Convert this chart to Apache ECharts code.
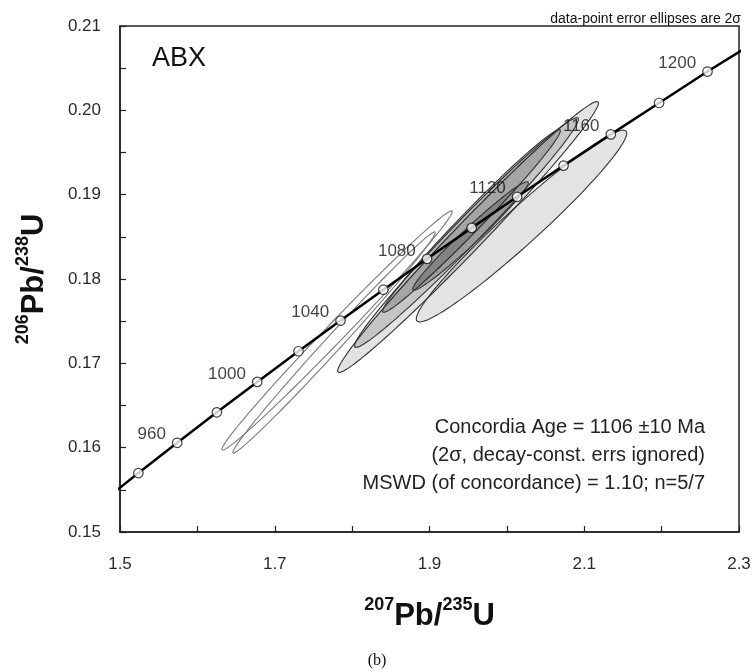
<!DOCTYPE html>
<html>
<head>
<meta charset="utf-8">
<script src="https://cdn.jsdelivr.net/npm/echarts@6/dist/echarts.min.js"></script>
<style>html,body{margin:0;padding:0;background:#fff;}#chart{width:754px;height:672px;}</style>
</head>
<body>
<div id="chart"></div>
<script>
// ---- data ----
const concordiaAge = [920, 940, 960, 980, 1000, 1020, 1040, 1060, 1080, 1100, 1120, 1140, 1160, 1180, 1200, 1220];
const concordiaX = [1.47456, 1.52378, 1.57399, 1.62519, 1.67741, 1.73067, 1.78499, 1.84039, 1.89689, 1.95452, 2.01329, 2.07323, 2.13437, 2.19671, 2.25928, 2.32515];
const concordiaY = [0.15340, 0.15699, 0.16058, 0.16419, 0.16780, 0.17143, 0.17507, 0.17873, 0.18239, 0.18606, 0.18975, 0.19344, 0.19715, 0.20087, 0.20460, 0.20835];
const markerAges = [940, 960, 980, 1000, 1020, 1040, 1060, 1080, 1100, 1120, 1140, 1160, 1180, 1200];
const labelAges = [960, 1000, 1040, 1080, 1120, 1160, 1200];

const ellipseNames = ['A', 'B', 'C', 'D', 'G', 'E', 'F'];
const ellipseX     = [1.7805, 1.7766, 1.9498, 1.9478, 2.0189, 1.9543, 1.9530];
const ellipseY     = [0.17389, 0.17247, 0.18498, 0.18551, 0.18628, 0.18688, 0.18510];
const ellipseXErr  = [0.1489, 0.1308, 0.1685, 0.1446, 0.1360, 0.1148, 0.0747];
const ellipseYErr  = [0.01419, 0.01311, 0.01606, 0.01362, 0.01137, 0.01083, 0.00644];
const ellipseRho   = [0.9936, 0.9942, 0.9884, 0.9863, 0.9677, 0.9870, 0.979];
const ellipseUsed  = [false, false, true, true, true, true, true];

const xTickLabels = ['1.5', '1.7', '1.9', '2.1', '2.3'];
const yTickLabels = ['0.15', '0.16', '0.17', '0.18', '0.19', '0.20', '0.21'];

// ---- styles ----
const ellipseFills = ['none', 'none', 'rgba(0,0,0,0.11)', 'rgba(0,0,0,0.13)', 'rgba(0,0,0,0.11)', 'rgba(0,0,0,0.16)', 'rgba(0,0,0,0.2)'];
const ellipseStrokes = ['#7a7a7a', '#7a7a7a', '#333', '#333', '#333', '#333', '#333'];
const SANS = 'Liberation Sans, Arial, sans-serif';

const chart = echarts.init(document.getElementById('chart'), null, {renderer: 'canvas'});

const ellipseData = ellipseX.map((x, i) => [x, ellipseY[i], ellipseXErr[i], ellipseYErr[i], ellipseRho[i], i]);
const concData = concordiaX.map((x, i) => [x, concordiaY[i]]);
const markerData = markerAges.map(a => {
  const i = concordiaAge.indexOf(a);
  return {value: [concordiaX[i], concordiaY[i]], age: a,
    label: {show: labelAges.indexOf(a) >= 0, formatter: String(a)}};
});

function fmtX(v) {
  const k = Math.round(v * 10);
  if (k % 2 === 0) return '';
  return xTickLabels[(k - 15) / 2] || '';
}
function fmtY(v) {
  const k = Math.round(v * 1000);
  if (k % 10 !== 0) return '';
  return yTickLabels[(k - 150) / 10] || '';
}

const titleRich = {
  sup: {fontSize: 18, fontWeight: 'bold', fontFamily: SANS, color: '#111', verticalAlign: 'top', lineHeight: 36},
  main: {fontSize: 31, fontWeight: 'bold', fontFamily: SANS, color: '#111', verticalAlign: 'bottom', lineHeight: 36}
};

const option = {
  animation: false,
  backgroundColor: '#fff',
  grid: {left: 120, right: 15, top: 26, bottom: 140, show: true, borderColor: '#222', borderWidth: 1.5, backgroundColor: 'transparent'},
  xAxis: {
    type: 'value', min: 1.5, max: 2.3, interval: 0.1,
    splitLine: {show: false},
    axisLine: {lineStyle: {color: '#222', width: 1.5}},
    axisTick: {inside: true, length: 6, lineStyle: {color: '#222', width: 1.2}},
    axisLabel: {formatter: fmtX, color: '#2a2a2a', fontSize: 17, fontFamily: SANS, margin: 24, showMinLabel: true, showMaxLabel: true},
    name: '{sup|207}{main|Pb/}{sup|235}{main|U}',
    nameLocation: 'middle', nameGap: 64,
    nameTextStyle: {rich: titleRich}
  },
  yAxis: {
    type: 'value', min: 0.15, max: 0.21, interval: 0.005,
    splitLine: {show: false},
    axisLine: {lineStyle: {color: '#222', width: 1.5}},
    axisTick: {inside: true, length: 6, lineStyle: {color: '#222', width: 1.2}},
    axisLabel: {formatter: fmtY, color: '#2a2a2a', fontSize: 17, fontFamily: SANS, margin: 19},
    name: '{sup|206}{main|Pb/}{sup|238}{main|U}',
    nameLocation: 'middle', nameGap: 70, nameRotate: 90,
    nameTextStyle: {rich: titleRich}
  },
  series: [
    {
      type: 'custom',
      data: ellipseData,
      encode: {x: 0, y: 1},
      renderItem: function (params, api) {
        const cx = api.value(0), cy = api.value(1), sx = api.value(2), sy = api.value(3), r = api.value(4);
        const idx = api.value(5);
        const q = Math.sqrt(1 - r * r);
        const pts = [];
        for (let k = 0; k < 120; k++) {
          const t = k / 120 * Math.PI * 2;
          const x = cx + sx * Math.cos(t);
          const y = cy + sy * (r * Math.cos(t) + q * Math.sin(t));
          pts.push(api.coord([x, y]));
        }
        return {
          type: 'polygon',
          shape: {points: pts},
          style: {fill: ellipseFills[idx], stroke: ellipseStrokes[idx], lineWidth: 1.1}
        };
      },
      z: 2
    },
    {
      type: 'line',
      data: concData,
      showSymbol: false,
      symbol: 'none',
      lineStyle: {color: '#000', width: 2.5},
      clip: true,
      z: 3
    },
    {
      type: 'scatter',
      data: markerData,
      symbol: 'circle',
      symbolSize: 9.5,
      itemStyle: {color: '#fff', borderColor: '#111', borderWidth: 1.2},
      label: {position: 'left', distance: 6, offset: [0, -8], color: '#111', fontSize: 17, fontFamily: SANS},
      z: 4
    }
  ],
  graphic: [
    {type: 'text', left: 152, top: 45, style: {text: 'ABX', fontSize: 27, fontFamily: SANS, fill: '#111'}},
    {type: 'text', x: 741, y: 26, style: {text: 'data-point error ellipses are 2σ', align: 'right', verticalAlign: 'bottom', fontSize: 14, fontFamily: SANS, fill: '#111'}},
    {type: 'text', x: 705, y: 427, style: {text: 'Concordia Age = 1106 ±10 Ma', align: 'right', verticalAlign: 'middle', fontSize: 20, fontFamily: SANS, fill: '#222'}},
    {type: 'text', x: 705, y: 455, style: {text: '(2σ, decay-const. errs ignored)', align: 'right', verticalAlign: 'middle', fontSize: 20, fontFamily: SANS, fill: '#222'}},
    {type: 'text', x: 705, y: 483, style: {text: 'MSWD (of concordance) = 1.10; n=5/7', align: 'right', verticalAlign: 'middle', fontSize: 20, fontFamily: SANS, fill: '#222'}},
    {type: 'text', x: 377, y: 661, style: {text: '(b)', align: 'center', verticalAlign: 'middle', fontSize: 16, fontFamily: 'Liberation Serif, serif', fill: '#111'}}
  ]
};
chart.setOption(option);
</script>
</body>
</html>
